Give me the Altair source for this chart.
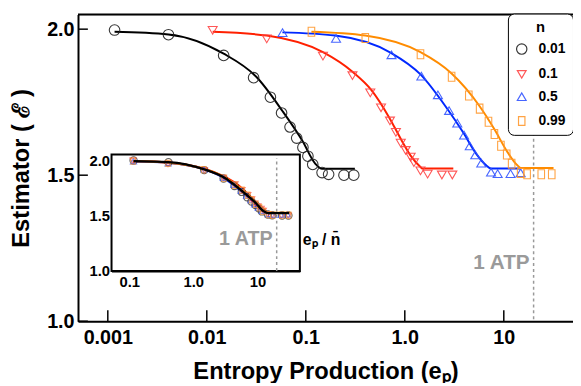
import altair as alt
import pandas as pd

# ---------------- data ----------------
n_labels = ["0.01", "0.1", "0.5", "0.99"]
n_values = [0.01, 0.1, 0.5, 0.99]

# measured points (entropy production, estimator)
pts_ep_001 = [0.00117, 0.0041, 0.0148, 0.0297, 0.0439, 0.0569, 0.0693, 0.0809, 0.0935, 0.105, 0.1175, 0.146, 0.170, 0.243, 0.305]
pts_est_001 = [1.997, 1.981, 1.910, 1.834, 1.767, 1.713, 1.665, 1.627, 1.595, 1.565, 1.537, 1.509, 1.503, 1.500, 1.500]

pts_ep_01 = [0.01146, 0.0403, 0.149, 0.296, 0.448, 0.575, 0.708, 0.813, 0.91, 1.02, 1.145, 1.236, 1.44, 1.70, 2.37, 3.02]
pts_est_01 = [1.998, 1.969, 1.910, 1.843, 1.784, 1.733, 1.688, 1.649, 1.612, 1.587, 1.564, 1.545, 1.517, 1.506, 1.503, 1.503]

pts_ep_05 = [0.0582, 0.202, 0.734, 1.47, 2.16, 2.80, 3.39, 3.97, 4.53, 5.15, 5.92, 7.43, 8.67, 11.7, 14.8]
pts_est_05 = [1.986, 1.966, 1.910, 1.837, 1.773, 1.719, 1.676, 1.635, 1.598, 1.567, 1.539, 1.508, 1.503, 1.503, 1.506]

pts_ep_099 = [0.114, 0.399, 1.44, 2.97, 4.43, 5.70, 7.0, 8.04, 9.35, 10.7, 12.0, 14.8, 17.2, 23.9, 30.5]
pts_est_099 = [1.991, 1.970, 1.914, 1.837, 1.773, 1.728, 1.683, 1.641, 1.601, 1.571, 1.539, 1.508, 1.503, 1.503, 1.503]

# fitted curves
fit_ep_001 = [0.00117, 0.0041, 0.0148, 0.0316, 0.0583, 0.0923, 0.125, 0.146, 0.313]
fit_est_001 = [1.991, 1.982, 1.916, 1.837, 1.719, 1.618, 1.539, 1.522, 1.522]

fit_ep_01 = [0.01146, 0.0403, 0.149, 0.296, 0.458, 0.697, 0.912, 1.145, 1.44, 1.50, 3.09]
fit_est_01 = [1.991, 1.978, 1.921, 1.854, 1.792, 1.697, 1.624, 1.567, 1.528, 1.523, 1.523]

fit_ep_05 = [0.058, 0.198, 0.724, 1.44, 2.65, 3.89, 5.27, 6.63, 7.43, 14.7]
fit_est_05 = [1.989, 1.978, 1.919, 1.845, 1.730, 1.646, 1.573, 1.534, 1.523, 1.523]

fit_ep_099 = [0.114, 0.399, 1.44, 2.97, 5.70, 8.04, 10.9, 13.7, 14.8, 31.8]
fit_est_099 = [1.991, 1.978, 1.921, 1.848, 1.736, 1.657, 1.579, 1.534, 1.525, 1.525]

atp_ep = 20
x_tick_values = [0.001, 0.01, 0.1, 1, 10]
x_tick_labels = ["0.001", "0.01", "0.1", "1.0", "10"]
y_tick_values = [1.0, 1.5, 2.0]
inset_x_values = [0.1, 1, 10]
inset_x_labels = ["0.1", "1.0", "10"]

# ---------------- styling ----------------
marker_colors = ["#222222", "#ff4545", "#3355ff", "#ff9a30"]
line_colors = ["#000000", "#ff2000", "#0028ff", "#ff8c00"]
marker_shapes = [
    "circle",
    "M-0.85,-0.6L0.85,-0.6L0,0.85Z",
    "M-0.85,0.6L0.85,0.6L0,-0.85Z",
    "M-0.62,-0.85L0.62,-0.85L0.62,0.85L-0.62,0.85Z",
]
FONT = "Liberation Sans"

fit_names = ["fit " + s for s in n_labels]

rows = []
for lab, fname, nv, pe, ps, fe, fs in [
    (n_labels[0], fit_names[0], n_values[0], pts_ep_001, pts_est_001, fit_ep_001, fit_est_001),
    (n_labels[1], fit_names[1], n_values[1], pts_ep_01, pts_est_01, fit_ep_01, fit_est_01),
    (n_labels[2], fit_names[2], n_values[2], pts_ep_05, pts_est_05, fit_ep_05, fit_est_05),
    (n_labels[3], fit_names[3], n_values[3], pts_ep_099, pts_est_099, fit_ep_099, fit_est_099),
]:
    for e, s in zip(pe, ps):
        rows.append({"n": lab, "fit": fname, "nval": nv, "ep": e, "est": s, "kind": "pt"})
    for e, s in zip(fe, fs):
        rows.append({"n": lab, "fit": fname, "nval": nv, "ep": e, "est": s, "kind": "fit"})
df = pd.DataFrame(rows)


def label_expr(values, labels):
    expr = "'" + labels[-1] + "'"
    for v, l in reversed(list(zip(values[:-1], labels[:-1]))):
        expr = f"(abs(datum.value - {v}) < {v * 0.01}) ? '{l}' : ({expr})"
    return expr


W, H = 502, 311
xs_main = alt.Scale(type="log", domain=[0.0005, 50], nice=False)
ys_main = alt.Scale(domain=[1.0, 2.05], nice=False, zero=False)
xs_in = alt.Scale(type="log", domain=[0.053, 46], range=[34, 225], nice=False)
ys_in = alt.Scale(domain=[1.0, 2.05], range=[260, 142], nice=False, zero=False)

ax_x = alt.Axis(values=x_tick_values, labelExpr=label_expr(x_tick_values, x_tick_labels),
                ticks=False, tickSize=0, grid=False, domainColor="black", domainWidth=2,
                labelFontSize=20, labelFontWeight="bold", labelColor="black", labelPadding=7,
                labelFont=FONT, labelOverlap=False, labelFlush=False,
                title="Entropy Production (eₚ)", titleFont=FONT, titleFontSize=24,
                titleFontWeight="bold", titleColor="black", titlePadding=12)
ax_y = alt.Axis(values=y_tick_values, format=".1f", ticks=False, tickSize=0, grid=False,
                domainColor="black", domainWidth=2, labelFontSize=20, labelFontWeight="bold",
                labelColor="black", labelPadding=4, labelFont=FONT, labelOverlap=False,
                labelFlush=False,
                title="Estimator ( ℰ )", titleFont=FONT, titleFontSize=24,
                titleFontWeight="bold", titleColor="black", titlePadding=13)
ax_xi = alt.Axis(orient="bottom", offset=-51, values=inset_x_values,
                 labelExpr=label_expr(inset_x_values, inset_x_labels),
                 ticks=False, tickSize=0, grid=False, domainColor="black", domainWidth=2,
                 labelFontSize=15, labelFontWeight="bold", labelColor="black", labelPadding=4,
                 labelFont=FONT, labelOverlap=False, labelFlush=False, title=None)
ax_yi = alt.Axis(orient="left", offset=-34, values=y_tick_values, format=".1f",
                 ticks=False, tickSize=0, grid=False, domainColor="black", domainWidth=2,
                 labelFontSize=15, labelFontWeight="bold", labelColor="black", labelPadding=2,
                 labelFont=FONT, labelOverlap=False, labelFlush=False, title=None)

legend = alt.Legend(title="n", orient="none", legendX=436, legendY=-1,
                    strokeColor="black", cornerRadius=6, fillColor="white", padding=7,
                    titleFontSize=15, titleFontWeight="bold", titleFont=FONT, titleAnchor="middle",
                    titlePadding=7, labelFontSize=14, labelFontWeight="bold", labelFont=FONT,
                    symbolSize=110, symbolStrokeWidth=1.2, rowPadding=10, labelOffset=10)

color_enc = alt.Color("n:N", scale=alt.Scale(domain=n_labels, range=marker_colors), legend=legend)
shape_enc = alt.Shape("n:N", scale=alt.Scale(domain=n_labels, range=marker_shapes), legend=legend)
stroke_enc = alt.Stroke("fit:N", scale=alt.Scale(domain=fit_names, range=line_colors), legend=None)

one = pd.DataFrame({"k": [0]})

# ---------------- main plot ----------------
dash_main = alt.Chart(one).mark_rule(color="#999999", strokeDash=[3, 3], strokeWidth=1.5).encode(
    x=alt.datum(atp_ep))
fits_main = alt.Chart(df).transform_filter("datum.kind == 'fit'").mark_line(
    strokeWidth=2, interpolate="monotone").encode(
    x=alt.X("ep:Q", scale=xs_main, axis=ax_x),
    y=alt.Y("est:Q", scale=ys_main, axis=ax_y),
    stroke=stroke_enc, detail="fit:N")
pts_main = alt.Chart(df).transform_filter("datum.kind == 'pt'").mark_point(
    filled=False, strokeWidth=1.1, size=115, opacity=0.9).encode(
    x="ep:Q", y="est:Q", color=color_enc, shape=shape_enc)
xticks = alt.Chart(pd.DataFrame({"ep": x_tick_values})).mark_rule(
    color="black", strokeWidth=1.5).encode(x="ep:Q", y=alt.value(H), y2=alt.value(H - 11))
yticks = alt.Chart(pd.DataFrame({"est": y_tick_values})).mark_rule(
    color="black", strokeWidth=1.5).encode(y="est:Q", x=alt.value(0), x2=alt.value(10))
top_line = alt.Chart(one).mark_rule(color="black", strokeWidth=2).encode(y=alt.datum(2.05))
atp_main = alt.Chart(one).mark_text(text="1 ATP", align="right", baseline="middle",
                                    fontSize=21, fontWeight="bold", font=FONT,
                                    color="#9a9a9a", dx=-4).encode(
    x=alt.datum(atp_ep), y=alt.datum(1.2))

main = alt.layer(dash_main, fits_main, pts_main, xticks, yticks, top_line, atp_main)

# ---------------- inset ----------------
frame = alt.Chart(one).mark_rect(fill="white", stroke="black", strokeWidth=2).encode(
    x=alt.datum(0.053), x2=alt.datum(46), y=alt.datum(1.0), y2=alt.datum(2.05))
dash_in = alt.Chart(one).mark_rule(color="#999999", strokeDash=[3, 3], strokeWidth=1.5).encode(
    x=alt.datum(atp_ep), y=alt.datum(1.0), y2=alt.datum(2.02))
fits_in = alt.Chart(df).transform_filter(
    f"datum.kind == 'fit' && datum.n != '{n_labels[0]}'").transform_calculate(
    xr="datum.ep / datum.nval").mark_line(strokeWidth=2.2, interpolate="monotone").encode(
    x=alt.X("xr:Q", scale=xs_in, axis=ax_xi),
    y=alt.Y("est:Q", scale=ys_in, axis=ax_yi),
    stroke=stroke_enc, detail="fit:N")
pts_in = alt.Chart(df).transform_filter("datum.kind == 'pt'").transform_calculate(
    xr="datum.ep / datum.nval").mark_point(filled=False, strokeWidth=1.1, size=55).encode(
    x="xr:Q", y="est:Q", color=color_enc, shape=shape_enc)
fit_in_black = alt.Chart(df).transform_filter(
    f"datum.kind == 'fit' && datum.n == '{n_labels[0]}'").transform_calculate(
    xr="datum.ep / datum.nval").mark_line(strokeWidth=2.4, interpolate="monotone",
                                          color="black").encode(x="xr:Q", y="est:Q")
atp_in = alt.Chart(one).mark_text(text="1 ATP", align="right", baseline="middle",
                                  fontSize=20, fontWeight="bold", font=FONT,
                                  color="#9a9a9a", dx=-4).encode(
    x=alt.datum(atp_ep), y=alt.datum(1.285))
lab_in = alt.Chart(one).mark_text(text="eₚ / n̄", align="left", baseline="middle",
                                  fontSize=16, fontWeight="bold", font=FONT,
                                  color="black", dx=3).encode(
    x=alt.datum(46), y=alt.datum(1.28))

inset = alt.layer(frame, dash_in, fits_in, pts_in, fit_in_black, atp_in, lab_in)

chart = alt.layer(main, inset).resolve_scale(x="independent", y="independent").properties(
    width=W, height=H,
    autosize=alt.AutoSizeParams(type="none"),
    padding={"left": 71, "top": 4, "right": 0, "bottom": 60},
).configure_view(stroke=None).configure(font=FONT)

chart.save("out.html", embed_options={"renderer": "svg", "actions": False})
